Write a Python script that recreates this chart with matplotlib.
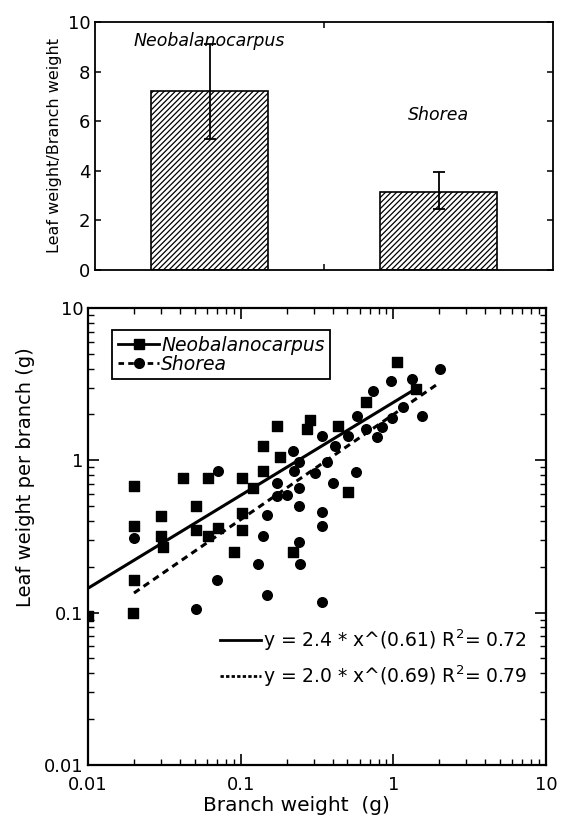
import numpy as np
import matplotlib
matplotlib.use('Agg')
import matplotlib.pyplot as plt
from matplotlib.lines import Line2D

plt.rcParams['font.family'] = ['DejaVu Sans']
plt.rcParams['hatch.linewidth'] = 0.9

# top panel: leaf/branch weight ratio
species = ['Neobalanocarpus', 'Shorea']
ratioMean = [7.2, 3.15]
ratioErrLow = [1.9, 0.7]
ratioErrHigh = [1.9, 0.8]

# bottom panel: Neobalanocarpus (squares)
neoBranch = [0.01, 0.0197, 0.020, 0.020, 0.020, 0.030, 0.030, 0.031, 0.042, 0.051,
             0.051, 0.061, 0.061, 0.071, 0.091, 0.102, 0.102, 0.102, 0.12, 0.14,
             0.14, 0.174, 0.18, 0.22, 0.27, 0.284, 0.437, 0.505, 0.66, 1.05, 1.41]
neoLeaf = [0.095, 0.10, 0.164, 0.68, 0.37, 0.43, 0.32, 0.27, 0.77, 0.50,
           0.35, 0.77, 0.32, 0.36, 0.25, 0.77, 0.45, 0.35, 0.66, 1.24,
           0.85, 1.67, 1.05, 0.25, 1.6, 1.85, 1.67, 0.62, 2.42, 4.45, 2.95]

# bottom panel: Shorea (circles)
shoBranch = [0.020, 0.051, 0.07, 0.061, 0.071, 0.13, 0.14, 0.149, 0.149, 0.174,
             0.174, 0.20, 0.22, 0.225, 0.24, 0.24, 0.24, 0.245, 0.343, 0.343,
             0.343, 0.343, 0.37, 0.40, 0.414, 0.505, 0.569, 0.58, 0.66, 0.735,
             0.78, 0.84, 0.96, 0.98, 1.16, 1.33, 1.55, 2.02, 0.307, 0.24]
shoLeaf = [0.31, 0.105, 0.164, 0.32, 0.85, 0.21, 0.32, 0.44, 0.13, 0.71,
           0.58, 0.59, 1.15, 0.85, 0.50, 0.66, 0.29, 0.21, 1.45, 0.46,
           0.37, 0.117, 0.97, 0.71, 1.24, 1.45, 0.84, 1.95, 1.6, 2.86,
           1.42, 1.65, 3.33, 1.9, 2.25, 3.44, 1.95, 4.0, 0.83, 0.97]

# power-law fits as printed on the chart: y = a * x^b, R^2
neoFit = (2.4, 0.61, 0.72)
shoFit = (2.0, 0.69, 0.79)
neoFitRange = [0.01, 1.3]
shoFitRange = [0.02, 1.9]

fig = plt.figure(figsize=(5.69, 8.27), dpi=100)

# ---- top bar chart
ax1 = fig.add_axes([0.167, 0.6735, 0.805, 0.300])
xpos = np.arange(len(species))
ax1.bar(xpos, ratioMean, width=0.51, color='white', edgecolor='black',
        hatch='//////', linewidth=1.2, zorder=2)
ax1.errorbar(xpos, ratioMean, yerr=[ratioErrLow, ratioErrHigh], fmt='none',
             ecolor='black', elinewidth=1.3, capsize=4, capthick=1.3, zorder=3)
ax1.set_xlim(-0.5, 1.5)
ax1.set_ylim(0, 10)
ax1.set_yticks(range(0, 11, 2))
ax1.set_xticks([0.5])
ax1.set_xticklabels([])
ax1.tick_params(axis='both', direction='in', length=4, width=1.1, labelsize=13,
                top=True, right=True)
ax1.set_ylabel('Leaf weight/Branch weight', fontsize=11.5)
for sp in ax1.spines.values():
    sp.set_linewidth(1.3)
ax1.text(0.0, 9.25, species[0], ha='center', va='center',
         fontsize=12.5, style='italic')
ax1.text(1.0, 6.25, species[1], ha='center', va='center', fontsize=12.5,
         style='italic')

# ---- bottom scatter, log-log
ax2 = fig.add_axes([0.1547, 0.075, 0.805, 0.5526])
ax2.set_xscale('log')
ax2.set_yscale('log')
ax2.scatter(neoBranch, neoLeaf, marker='s', s=42, color='black', zorder=3)
ax2.scatter(shoBranch, shoLeaf, marker='o', s=48, color='black', zorder=3)

xn = np.logspace(np.log10(neoFitRange[0]), np.log10(neoFitRange[1]), 50)
xs = np.logspace(np.log10(shoFitRange[0]), np.log10(shoFitRange[1]), 50)
ax2.plot(xn, neoFit[0] * xn ** neoFit[1], color='black', lw=2.2, zorder=2)
ax2.plot(xs, shoFit[0] * xs ** shoFit[1], color='black', lw=2.2,
         linestyle=(0, (2.2, 1.6)), zorder=2)

ax2.set_xlim(0.01, 10)
ax2.set_ylim(0.01, 10)
ax2.set_xticks([0.01, 0.1, 1, 10])
ax2.set_xticklabels(['0.01', '0.1', '1', '10'])
ax2.set_yticks([0.01, 0.1, 1, 10])
ax2.set_yticklabels(['0.01', '0.1', '1', '10'])
ax2.tick_params(which='major', direction='in', length=8, width=1.2, labelsize=13,
                top=True, right=True)
ax2.tick_params(axis='x', which='major', pad=8)
ax2.tick_params(which='minor', direction='in', length=4.5, width=1.0,
                top=True, right=True)
for sp in ax2.spines.values():
    sp.set_linewidth(1.6)
ax2.set_xlabel('Branch weight  (g)', fontsize=14.5)
ax2.set_ylabel('Leaf weight per branch (g)', fontsize=14)
ax2.xaxis.set_label_coords(0.455, -0.068)
ax2.yaxis.set_label_coords(-0.115, 0.63)

h1 = Line2D([], [], color='black', lw=2, marker='s', markersize=7)
h2 = Line2D([], [], color='black', lw=2, linestyle=(0, (2, 1.5)), marker='o',
            markersize=7)
leg1 = ax2.legend([h1, h2], species, loc='upper left',
                  bbox_to_anchor=(0.045, 0.96), handlelength=2.2,
                  prop={'style': 'italic', 'size': 13.5}, fancybox=False,
                  edgecolor='black', framealpha=1, borderpad=0.3,
                  labelspacing=0.0, handletextpad=0.1, borderaxespad=0.2)
leg1.get_frame().set_linewidth(1.3)
ax2.add_artist(leg1)

f1 = Line2D([], [], color='black', lw=2)
f2 = Line2D([], [], color='black', lw=2, linestyle=(0, (1.2, 0.8)))
eq1 = 'y = %.1f * x^(%.2f) R$^2$= %.2f' % neoFit
eq2 = 'y = %.1f * x^(%.2f) R$^2$= %.2f' % shoFit
ax2.legend([f1, f2], [eq1, eq2], loc='lower right',
           bbox_to_anchor=(0.995, 0.13), frameon=False, fontsize=13.5,
           handlelength=2.2, handletextpad=0.1, labelspacing=0.55)

fig.savefig('out.png', dpi=100)
